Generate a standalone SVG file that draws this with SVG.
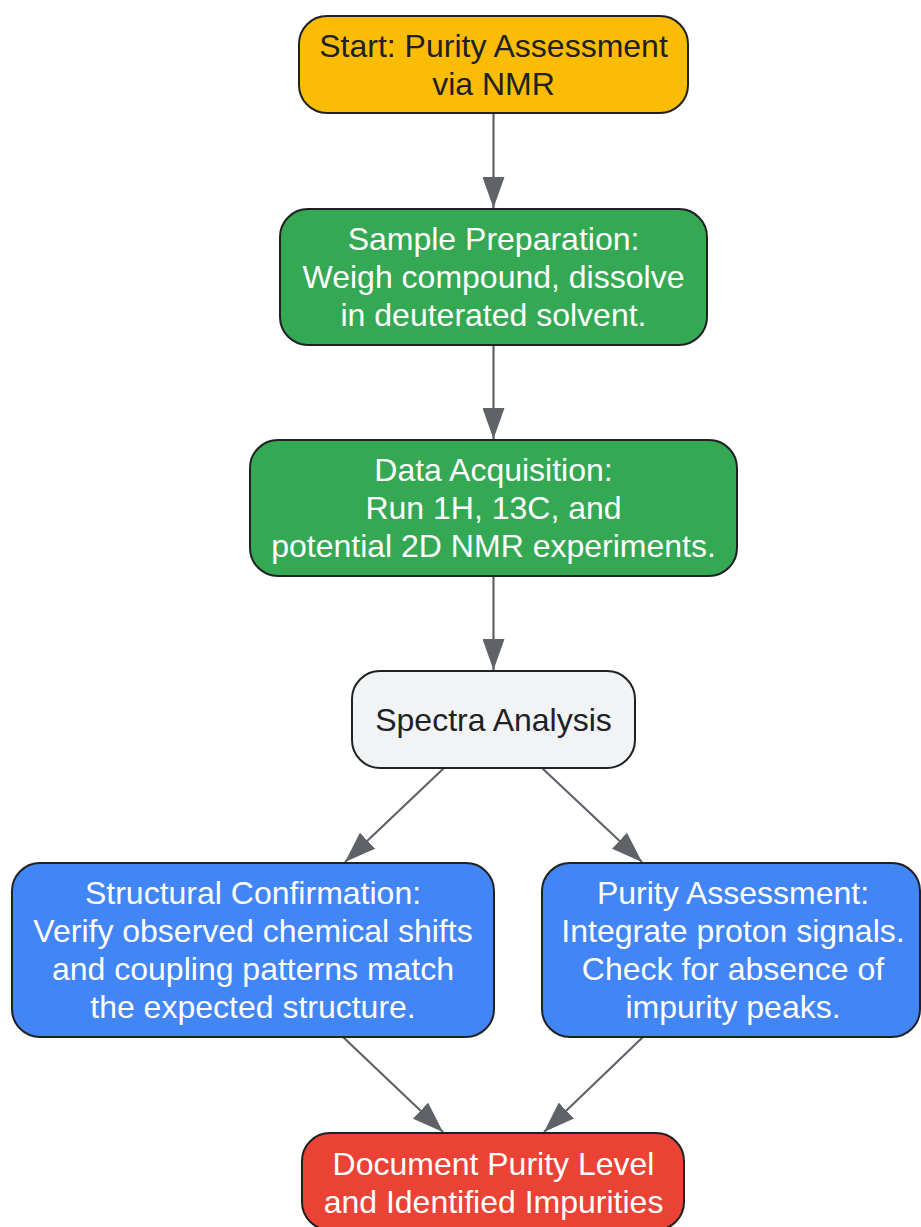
<svg xmlns="http://www.w3.org/2000/svg" width="921" height="1227" viewBox="0 0 921 1227">
<defs>
<marker id="ah" markerUnits="userSpaceOnUse" markerWidth="31" markerHeight="22" refX="31" refY="11" orient="auto">
<path d="M0,0 L31,11 L0,22 z" fill="#5F6368"/>
</marker>
</defs>
<style>
.n{stroke:#202124;stroke-width:2}
.t{font-family:"Liberation Sans",Arial,sans-serif;font-size:32px;text-anchor:middle}
.d{fill:#202124}
.w{fill:#FFFFFF}
.e{stroke:#5F6368;stroke-width:2.2;fill:none;marker-end:url(#ah)}
</style>
<rect width="921" height="1227" fill="#FFFFFF"/>
<g id="edges">
<line class="e" x1="493.5" y1="113" x2="493.5" y2="208"/>
<line class="e" x1="493.5" y1="345" x2="493.5" y2="439"/>
<line class="e" x1="493.5" y1="576" x2="493.5" y2="670"/>
<line class="e" x1="444" y1="768" x2="345" y2="862"/>
<line class="e" x1="542" y1="768" x2="642" y2="862"/>
<line class="e" x1="343" y1="1037" x2="443" y2="1132"/>
<line class="e" x1="643" y1="1037" x2="544" y2="1132"/>
</g>
<g id="start">
<rect class="n" x="299" y="16" width="389" height="97" rx="28" fill="#FBBC05"/>
<text class="t d" x="493.5" y="57">Start: Purity Assessment</text>
<text class="t d" x="493.5" y="95">via NMR</text>
</g>
<g id="sample">
<rect class="n" x="280" y="209" width="427" height="136" rx="28" fill="#34A853"/>
<text class="t w" x="493.5" y="250">Sample Preparation:</text>
<text class="t w" x="493.5" y="288">Weigh compound, dissolve</text>
<text class="t w" x="493.5" y="326">in deuterated solvent.</text>
</g>
<g id="acquisition">
<rect class="n" x="250" y="440" width="487" height="136" rx="28" fill="#34A853"/>
<text class="t w" x="493.5" y="481">Data Acquisition:</text>
<text class="t w" x="493.5" y="519">Run 1H, 13C, and</text>
<text class="t w" x="493.5" y="557">potential 2D NMR experiments.</text>
</g>
<g id="spectra">
<rect class="n" x="352" y="671" width="283" height="97" rx="28" fill="#F1F3F4"/>
<text class="t d" x="493.5" y="730.5">Spectra Analysis</text>
</g>
<g id="structural">
<rect class="n" x="12" y="863" width="482" height="174" rx="28" fill="#4285F4"/>
<text class="t w" x="253" y="904">Structural Confirmation:</text>
<text class="t w" x="253" y="942">Verify observed chemical shifts</text>
<text class="t w" x="253" y="980">and coupling patterns match</text>
<text class="t w" x="253" y="1018">the expected structure.</text>
</g>
<g id="purity">
<rect class="n" x="542" y="863" width="378" height="174" rx="28" fill="#4285F4"/>
<text class="t w" x="733" y="904">Purity Assessment:</text>
<text class="t w" x="733" y="942">Integrate proton signals.</text>
<text class="t w" x="733" y="980">Check for absence of</text>
<text class="t w" x="733" y="1018">impurity peaks.</text>
</g>
<g id="document">
<rect class="n" x="302" y="1133" width="382" height="97" rx="28" fill="#EA4335"/>
<text class="t w" x="493.5" y="1174.5">Document Purity Level</text>
<text class="t w" x="493.5" y="1212.5">and Identified Impurities</text>
</g>
</svg>
